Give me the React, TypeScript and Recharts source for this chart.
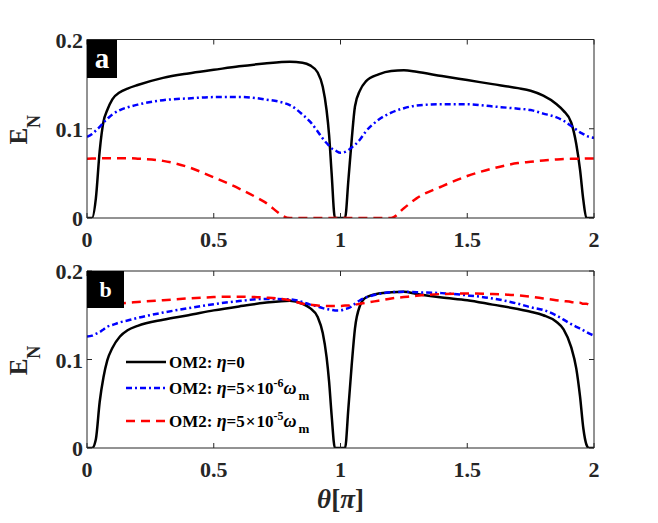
import React from "react";
import { Legend, Line, LineChart, XAxis, YAxis } from "recharts";

// theta in units of pi
const theta = [
  0, 0.02, 0.035, 0.05, 0.065, 0.08, 0.1, 0.13, 0.16, 0.2, 0.3, 0.4, 0.5, 0.6, 0.7, 0.8, 0.85, 0.88, 0.91, 0.93,
  0.945, 0.955, 0.965, 0.978, 1.0, 1.018, 1.031, 1.044, 1.057, 1.077, 1.1, 1.15, 1.2, 1.25, 1.3, 1.4, 1.5, 1.6, 1.7,
  1.75, 1.8, 1.85, 1.88, 1.91, 1.93, 1.945, 1.958, 1.97, 1.98, 2.0,
];

// panel a
const aSolid = [
  0, 0, 0.022, 0.075, 0.108, 0.121, 0.133, 0.141, 0.145, 0.149, 0.157, 0.162, 0.166, 0.17, 0.173, 0.175, 0.174, 0.171,
  0.163, 0.147, 0.121, 0.093, 0.05, 0, 0, 0, 0.042, 0.087, 0.125, 0.143, 0.153, 0.161, 0.1648, 0.1655, 0.1638, 0.159,
  0.1545, 0.15, 0.1455, 0.1425, 0.137, 0.128, 0.12, 0.107, 0.083, 0.054, 0.02, 0, 0, 0,
];
const aDashDot = [
  0.091, 0.094, 0.098, 0.102, 0.107, 0.111, 0.116, 0.121, 0.124, 0.127, 0.132, 0.134, 0.1355, 0.1357, 0.133, 0.1265,
  0.116, 0.108, 0.097, 0.089, 0.084, 0.081, 0.078, 0.076, 0.073, 0.074, 0.076, 0.079, 0.082, 0.088, 0.097, 0.11, 0.118,
  0.123, 0.126, 0.1275, 0.1275, 0.125, 0.1225, 0.121, 0.117, 0.113, 0.109, 0.103, 0.099, 0.096, 0.094, 0.092, 0.091,
  0.09,
];
const aDashed = [
  0.0665, 0.0667, 0.0668, 0.0669, 0.067, 0.067, 0.067, 0.067, 0.067, 0.0665, 0.064, 0.057, 0.0455, 0.033, 0.018, 0, 0,
  0, 0, 0, 0, 0, 0, 0, 0, 0, 0, 0, 0, 0, 0, 0, 0, 0.011, 0.022, 0.0355, 0.047, 0.0555, 0.0615, 0.063, 0.0645, 0.0655,
  0.066, 0.0663, 0.0665, 0.0665, 0.0666, 0.0667, 0.0667, 0.0667,
];

// panel b
const bSolid = [
  0, 0, 0.01, 0.052, 0.08, 0.099, 0.113, 0.126, 0.133, 0.138, 0.145, 0.15, 0.1555, 0.16, 0.164, 0.1665, 0.163, 0.158,
  0.148, 0.13, 0.103, 0.075, 0.037, 0, 0, 0, 0.0445, 0.093, 0.135, 0.161, 0.17, 0.1745, 0.176, 0.1765, 0.174, 0.17,
  0.167, 0.162, 0.157, 0.154, 0.15, 0.143, 0.134, 0.114, 0.09, 0.058, 0.022, 0.004, 0, 0,
];
const bDashDot = [
  0.126, 0.127, 0.129, 0.131, 0.134, 0.137, 0.139, 0.142, 0.144, 0.147, 0.153, 0.158, 0.1625, 0.166, 0.1685, 0.168,
  0.165, 0.162, 0.16, 0.158, 0.157, 0.1565, 0.156, 0.1555, 0.1555, 0.157, 0.158, 0.16, 0.163, 0.167, 0.17, 0.174, 0.176,
  0.1765, 0.176, 0.175, 0.1725, 0.169, 0.163, 0.159, 0.156, 0.15, 0.145, 0.14, 0.137, 0.135, 0.133, 0.131, 0.1295,
  0.127,
];
const bDashed = [
  0.161, 0.161, 0.1612, 0.1615, 0.162, 0.162, 0.163, 0.1635, 0.164, 0.165, 0.167, 0.169, 0.1705, 0.171, 0.17, 0.167,
  0.163, 0.162, 0.161, 0.1605, 0.1605, 0.1605, 0.1605, 0.1605, 0.1605, 0.161, 0.161, 0.162, 0.162, 0.163, 0.164,
  0.1665, 0.169, 0.1705, 0.172, 0.174, 0.1745, 0.174, 0.1725, 0.171, 0.169, 0.167, 0.166, 0.165, 0.164, 0.164, 0.163,
  0.163, 0.162, 0.1615,
];

const xTicks = [0, 0.5, 1, 1.5, 2];
const yTicks = [0, 0.1, 0.2];

const FONT = '"Liberation Serif", "Times New Roman", serif';
const INK = "#262626";

const SERIES = [
  { key: "solid", color: "#000000", dash: undefined as string | undefined },
  { key: "dashDot", color: "#0000ff", dash: "6 3 2 3" },
  { key: "dashed", color: "#ff0000", dash: "9 6" },
];

const rowsA = theta.map((t, i) => ({ t, solid: aSolid[i], dashDot: aDashDot[i], dashed: aDashed[i] }));
const rowsB = theta.map((t, i) => ({ t, solid: bSolid[i], dashDot: bDashDot[i], dashed: bDashed[i] }));

const tickText = { fontFamily: FONT, fontWeight: "bold" as const, fontSize: 22, fill: INK };

const BottomTick = ({ x, y, payload }: any) => (
  <g>
    <line x1={x} x2={x} y1={y} y2={y - 5} stroke={INK} />
    <text x={x} y={y + 29} textAnchor="middle" {...tickText}>
      {payload.value}
    </text>
  </g>
);
const TopTick = ({ x, y }: any) => <line x1={x} x2={x} y1={y} y2={y + 5} stroke={INK} />;
const LeftTick = ({ x, y, payload }: any) => (
  <g>
    <line x1={x} x2={x + 5} y1={y} y2={y} stroke={INK} />
    <text x={x - 4} y={y + 8} textAnchor="end" {...tickText}>
      {payload.value}
    </text>
  </g>
);
const RightTick = ({ x, y }: any) => <line x1={x} x2={x - 5} y1={y} y2={y} stroke={INK} />;

const YTitle = (props: any) => {
  const vb = props.viewBox || { x: 7, y: 40, width: 80, height: 178 };
  const cx = vb.x + 20;
  const cy = vb.y + vb.height / 2 + 1;
  return (
    <text
      x={cx}
      y={cy}
      transform={`rotate(-90 ${cx} ${cy})`}
      textAnchor="middle"
      fontFamily={FONT}
      fontWeight="bold"
      fill={INK}
    >
      <tspan fontSize={25}>E</tspan>
      <tspan fontSize={18} dy={13}>
        N
      </tspan>
    </text>
  );
};

const XTitle = (props: any) => {
  const vb = props.viewBox || { x: 87, y: 188, width: 507, height: 75 };
  return (
    <text
      x={vb.x + vb.width / 2}
      y={vb.y + 60}
      textAnchor="middle"
      fontFamily={FONT}
      fontWeight="bold"
      fontSize={27}
      fill={INK}
    >
      <tspan fontStyle="italic">θ</tspan>
      <tspan>[</tspan>
      <tspan fontStyle="italic">π</tspan>
      <tspan>]</tspan>
    </text>
  );
};

const sup = { position: "relative" as const, top: -7, fontSize: 12 };
const sub = { position: "relative" as const, top: 6, fontSize: 13, marginLeft: 2 };
const greek = { fontStyle: "italic" as const, fontSize: 18 };

const legendLabels = [
  <>
    OM2: <span style={greek}>η</span>=0
  </>,
  <>
    OM2: <span style={greek}>η</span>=5<span style={{ margin: "0 1px" }}>×</span>10
    <span style={sup}>-6</span>
    <span style={greek}>ω</span>
    <span style={sub}>m</span>
  </>,
  <>
    OM2: <span style={greek}>η</span>=5<span style={{ margin: "0 1px" }}>×</span>10
    <span style={sup}>-5</span>
    <span style={greek}>ω</span>
    <span style={sub}>m</span>
  </>,
];
const legendRowTop = [0, 26, 59];

const LegendBox = () => (
  <div style={{ position: "relative", width: 260, height: 84, fontFamily: FONT, fontWeight: "bold", fontSize: 17, color: "#000" }}>
    {SERIES.map((s, i) => (
      <div
        key={s.key}
        style={{ position: "absolute", left: 0, top: legendRowTop[i], height: 24, display: "flex", alignItems: "center", whiteSpace: "nowrap" }}
      >
        <svg width={40} height={10} style={{ display: "block" }}>
          <line x1={0} x2={40} y1={5} y2={5} stroke={s.color} strokeWidth={2.5} strokeDasharray={s.dash} />
        </svg>
        <span style={{ marginLeft: 3 }}>{legendLabels[i]}</span>
      </div>
    ))}
  </div>
);

function Panel({
  rows,
  top,
  height,
  margin,
  bottomAxisHeight,
  letter,
  letterBox,
  withXTitle,
  withLegend,
}: {
  rows: { t: number; solid: number; dashDot: number; dashed: number }[];
  top: number;
  height: number;
  margin: { top: number; right: number; bottom: number; left: number };
  bottomAxisHeight: number;
  letter: string;
  letterBox: { w: number; h: number; fontSize: number };
  withXTitle?: boolean;
  withLegend?: boolean;
}) {
  return (
    <div style={{ position: "absolute", left: 0, top, width: 658, height }}>
      <LineChart width={658} height={height} data={rows} margin={margin}>
        <XAxis
          dataKey="t"
          type="number"
          domain={[0, 2]}
          ticks={xTicks}
          interval={0}
          allowDataOverflow
          height={bottomAxisHeight}
          tickSize={0}
          tickMargin={0}
          tickLine={false}
          axisLine={{ stroke: INK }}
          tick={<BottomTick />}
          label={withXTitle ? <XTitle /> : undefined}
        />
        <XAxis
          xAxisId="top"
          orientation="top"
          dataKey="t"
          type="number"
          domain={[0, 2]}
          ticks={xTicks}
          interval={0}
          allowDataOverflow
          height={1}
          tickSize={0}
          tickMargin={0}
          tickLine={false}
          axisLine={{ stroke: INK }}
          tick={<TopTick />}
        />
        <YAxis
          type="number"
          domain={[0, 0.2]}
          ticks={yTicks}
          interval={0}
          allowDataOverflow
          width={80}
          tickSize={0}
          tickMargin={0}
          tickLine={false}
          axisLine={{ stroke: INK }}
          tick={<LeftTick />}
          label={<YTitle />}
        />
        <YAxis
          yAxisId="right"
          orientation="right"
          type="number"
          domain={[0, 0.2]}
          ticks={yTicks}
          interval={0}
          allowDataOverflow
          width={1}
          tickSize={0}
          tickMargin={0}
          tickLine={false}
          axisLine={{ stroke: INK }}
          tick={<RightTick />}
        />
        {SERIES.map((s) => (
          <Line
            key={s.key}
            dataKey={s.key}
            type="monotone"
            stroke={s.color}
            strokeWidth={2.5}
            strokeDasharray={s.dash}
            dot={false}
            activeDot={false}
            isAnimationActive={false}
          />
        ))}
        {withLegend && (
          <Legend
            layout="vertical"
            align="center"
            verticalAlign="middle"
            content={<LegendBox />}
            wrapperStyle={{ left: 126, top: 90, width: 270, height: 90 }}
          />
        )}
      </LineChart>
      <div
        style={{
          position: "absolute",
          left: margin.left + 80,
          top: margin.top + 1,
          width: letterBox.w,
          height: letterBox.h,
          background: "#000",
          color: "#fff",
          fontFamily: FONT,
          fontWeight: "bold",
          fontSize: letterBox.fontSize,
          display: "flex",
          alignItems: "center",
          justifyContent: "center",
          lineHeight: 1,
        }}
      >
        {letter}
      </div>
    </div>
  );
}

export default function App() {
  return (
    <div style={{ position: "absolute", left: 0, top: 0, width: 658, height: 523, background: "#fff", overflow: "hidden" }}>
      <Panel
        rows={rowsA}
        top={0}
        height={260}
        margin={{ top: 38.5, right: 63, bottom: 12, left: 7 }}
        bottomAxisHeight={30}
        letter="a"
        letterBox={{ w: 30, h: 38, fontSize: 29 }}
      />
      <Panel
        rows={rowsB}
        top={260}
        height={263}
        margin={{ top: 10, right: 63, bottom: 0, left: 7 }}
        bottomAxisHeight={75}
        letter="b"
        letterBox={{ w: 37, h: 37, fontSize: 22 }}
        withXTitle
        withLegend
      />
    </div>
  );
}
